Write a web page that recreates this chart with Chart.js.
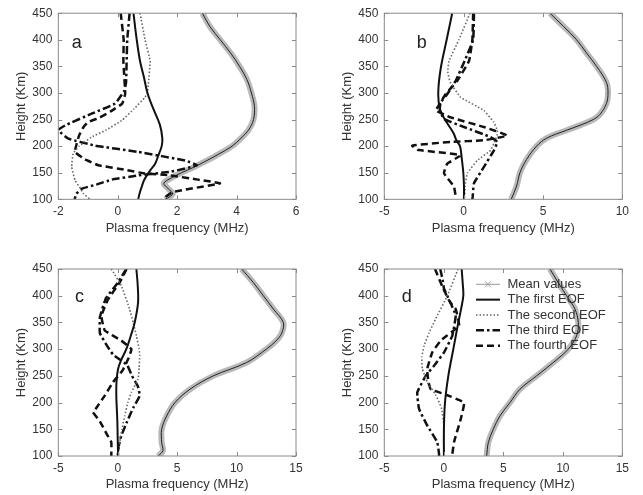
<!DOCTYPE html>
<html lang="en">
<head>
<meta charset="UTF-8">
<title>Plasma frequency EOF profiles</title>
<script src="https://cdn.jsdelivr.net/npm/chart.js"></script>
<style>
  body { margin: 0; background: #fff; }
  #wrap { position: relative; width: 643px; height: 495px; }
  #wrap canvas { position: absolute; left: 0; top: 0; }
</style>
</head>
<body>
<div id="wrap">
  <canvas id="chartA" width="643" height="495"></canvas>
  <canvas id="chartB" width="643" height="495"></canvas>
  <canvas id="chartC" width="643" height="495"></canvas>
  <canvas id="chartD" width="643" height="495"></canvas>
</div>
<script>
// each curve: [height (km), plasma frequency (MHz)]
const SERIES_NAMES = ['Mean values', 'The first EOF', 'The second EOF', 'The third EOF', 'The fourth EOF'];
const HEIGHT_TICKS = [100, 150, 200, 250, 300, 350, 400, 450];

// panel a
const A_TICKS = [-2, 0, 2, 4, 6];
const aMean = [[450,2.85],[425,3.1],[400,3.45],[375,3.8],[350,4.1],[325,4.35],[300,4.5],[275,4.6],[250,4.57],[230,4.4],[215,4.15],[200,3.85],[185,3.4],[170,2.9],[160,2.55],[150,2.15],[140,1.8],[130,1.55],[120,1.7],[110,1.85],[100,1.6]];
const aFirst = [[450,0.53],[400,0.64],[360,0.75],[330,0.88],[300,1.0],[270,1.2],[240,1.42],[215,1.5],[200,1.48],[180,1.35],[167,1.26],[155,1.1],[145,0.98],[135,0.88],[124,0.81],[112,0.74],[100,0.69]];
const aSecond = [[450,0.75],[400,0.92],[360,1.09],[317,1.03],[300,1.0],[292,0.92],[270,0.55],[248,0.13],[230,-0.4],[217,-0.88],[200,-1.3],[186,-1.5],[161,-1.55],[136,-1.44],[120,-1.25],[111,-1.16],[100,-0.93]];
const aThird = [[450,0.4],[400,0.32],[360,0.3],[320,0.28],[304,0.22],[280,-0.09],[261,-0.88],[239,-1.77],[230,-2.0],[214,-1.66],[201,-0.76],[189,0.69],[173,2.27],[164,2.66],[152,1.8],[145,0.7],[137,-0.2],[128,-0.7],[120,-1.2],[110,-1.4],[100,-1.45]];
const aFourth = [[450,0.1],[400,0.2],[360,0.19],[298,0.25],[280,0.15],[265,-0.25],[254,-0.6],[245,-1.0],[236,-1.15],[220,-1.3],[205,-1.38],[189,-1.44],[175,-1.1],[164,-0.65],[155,0.3],[149,0.86],[145,1.76],[137,2.7],[130,3.44],[114,1.87],[102,1.54],[100,1.5]];

// panel b
const B_TICKS = [-5, 0, 5, 10];
const bMean = [[450,5.44],[425,6.3],[400,7.12],[375,7.75],[350,8.38],[320,9.0],[300,9.1],[280,9.0],[260,8.6],[250,8.17],[240,7.4],[230,6.5],[215,5.23],[200,4.6],[175,3.97],[150,3.55],[125,3.34],[100,3.0]];
const bFirst = [[450,-0.72],[400,-1.07],[345,-1.45],[300,-1.6],[270,-1.5],[250,-1.18],[225,-0.65],[210,-0.44],[200,-0.23],[180,-0.13],[150,-0.02],[125,0.02],[100,0.02]];
const bSecond = [[450,0.4],[400,-0.3],[360,-0.92],[340,-1.0],[320,-0.85],[292,-0.19],[267,1.28],[245,1.9],[230,2.12],[220,2.1],[205,1.9],[192,1.7],[173,0.86],[149,0.23],[125,0.1],[100,0.05]];
const bThird = [[450,0.65],[400,0.6],[360,0.06],[323,-0.5],[298,-1.03],[282,-1.45],[268,-1.5],[251,-1.24],[236,0.02],[217,1.7],[208,2.12],[192,1.91],[161,1.28],[130,0.65],[105,0.57],[100,0.55]];
const bFourth = [[450,0.6],[400,0.55],[360,0.34],[323,-0.4],[298,-1.13],[275,-1.6],[267,-1.76],[254,-0.82],[236,1.28],[220,2.75],[211,1.28],[208,-0.82],[201,-3.24],[193,-2.9],[183,-0.19],[167,-1.03],[149,-1.24],[124,-0.61],[105,-0.5],[100,-0.5]];

// panel c
const C_TICKS = [-5, 0, 5, 10, 15];
const cMean = [[450,10.43],[425,11.4],[400,12.25],[375,13.1],[350,13.93],[330,13.8],[315,13.3],[300,12.5],[275,10.85],[250,8.04],[225,6.08],[200,4.82],[175,4.12],[150,3.7],[125,3.7],[110,3.8],[100,3.4]];
const cFirst = [[450,1.57],[420,1.68],[387,1.71],[350,1.43],[325,1.1],[300,0.72],[280,0.3],[263,0.03],[240,-0.1],[213,-0.12],[190,-0.08],[163,-0.03],[130,0.0],[100,0.03]];
const cSecond = [[450,-0.54],[419,0.3],[375,1.0],[350,1.3],[325,1.57],[300,1.8],[288,1.85],[265,1.8],[244,1.71],[219,1.15],[200,0.85],[175,0.59],[150,0.35],[126,0.17],[100,0.03]];
const cThird = [[450,0.72],[425,0.03],[395,-1.0],[360,-1.5],[330,-1.5],[310,-1.0],[290,-0.4],[270,0.8],[250,1.2],[230,1.7],[213,1.85],[190,1.3],[165,0.8],[138,0.3],[120,0.1],[100,0.0]];
const cFourth = [[450,0.75],[425,0.17],[393,-0.82],[362,-1.38],[335,-1.09],[316,0.3],[300,1.15],[281,0.87],[260,0.4],[238,-0.4],[213,-1.09],[190,-1.8],[182,-2.08],[165,-1.5],[140,-0.9],[126,-0.54],[100,-0.54]];

// panel d
const D_TICKS = [-5, 0, 5, 10, 15];
const dMean = [[450,8.92],[425,9.6],[400,10.32],[375,11.02],[350,11.3],[325,11.16],[300,10.46],[275,9.2],[250,7.8],[225,6.4],[200,5.56],[175,4.72],[150,4.16],[125,3.74],[100,3.6]];
const dFirst = [[450,1.5],[420,1.6],[400,1.64],[375,1.45],[350,1.22],[300,0.8],[250,0.38],[200,0.1],[150,0.01],[100,0.01]];
const dSecond = [[450,1.2],[400,0.3],[356,-0.7],[330,-1.25],[306,-1.66],[285,-1.85],[263,-1.8],[238,-1.39],[215,-0.7],[190,-0.2],[160,0.0],[130,0.0],[100,0.0]];
const dThird = [[450,-0.3],[430,-0.1],[413,0.02],[390,0.5],[363,1.0],[325,0.71],[294,0.02],[269,-0.82],[250,-1.52],[219,-2.23],[188,-2.08],[157,-1.39],[126,-0.55],[104,-0.4],[100,-0.4]];
const dFourth = [[450,-0.74],[413,-0.04],[388,0.52],[375,1.0],[344,1.28],[316,-0.26],[294,-0.97],[263,-1.39],[240,-1.3],[225,-1.1],[216,0.02],[200,1.7],[169,1.42],[126,0.86],[104,0.72],[100,0.72]];

const FONT = '"Liberation Sans", Arial, sans-serif';
const TEXT = '#333';

// line look of the five series (mean gets an extra thin core line)
const STYLES = [
  { color: '#b9b9b9', width: 6, dash: [] },
  { color: '#111', width: 2, dash: [] },
  { color: '#666', width: 1.6, dash: [1.5, 2] },
  { color: '#111', width: 2.5, dash: [8, 3, 2.5, 3] },
  { color: '#111', width: 2.5, dash: [7, 4] }
];

const panels = [
  { canvas: 'chartA', letter: 'a', ticks: A_TICKS, series: [aMean, aFirst, aSecond, aThird, aFourth],
    area: { left: 58.3, top: 12, right: 296, bottom: 199.3 }, lx: 13.4, ly: 34.7 },
  { canvas: 'chartB', letter: 'b', ticks: B_TICKS, series: [bMean, bFirst, bSecond, bThird, bFourth],
    area: { left: 384.3, top: 12, right: 622.3, bottom: 199.3 }, lx: 32.4, ly: 34.7 },
  { canvas: 'chartC', letter: 'c', ticks: C_TICKS, series: [cMean, cFirst, cSecond, cThird, cFourth],
    area: { left: 58.3, top: 269, right: 296, bottom: 456 }, lx: 16.7, ly: 33.3 },
  { canvas: 'chartD', letter: 'd', ticks: D_TICKS, series: [dMean, dFirst, dSecond, dThird, dFourth],
    area: { left: 384.3, top: 269, right: 622.3, bottom: 456 }, lx: 17.4, ly: 33.3, legend: true }
];

const Y_AXIS_W = 45, X_AXIS_H = 40;

function toPoints(arr) {
  return arr.map(p => ({ x: p[1], y: p[0] }));
}

// box, inward ticks on all four sides, panel letter
const framePlugin = {
  id: 'frame',
  afterDraw(chart, args, opts) {
    const { ctx, chartArea: a, scales: { x, y } } = chart;
    ctx.save();
    ctx.strokeStyle = '#8a8a8a';
    ctx.lineWidth = 1;
    ctx.setLineDash([]);
    ctx.strokeRect(a.left, a.top, a.right - a.left, a.bottom - a.top);
    ctx.beginPath();
    x.ticks.forEach(t => {
      const px = Math.round(x.getPixelForValue(t.value)) + 0.5;
      ctx.moveTo(px, a.bottom); ctx.lineTo(px, a.bottom - 4);
      ctx.moveTo(px, a.top); ctx.lineTo(px, a.top + 4);
    });
    y.ticks.forEach(t => {
      const py = Math.round(y.getPixelForValue(t.value)) + 0.5;
      ctx.moveTo(a.left, py); ctx.lineTo(a.left + 4, py);
      ctx.moveTo(a.right, py); ctx.lineTo(a.right - 4, py);
    });
    ctx.stroke();
    ctx.fillStyle = '#222';
    ctx.font = '18px ' + FONT;
    ctx.textBaseline = 'alphabetic';
    ctx.fillText(opts.letter, a.left + opts.lx, a.top + opts.ly);
    ctx.restore();
  }
};

// legend inside panel d
const legendPlugin = {
  id: 'eofLegend',
  afterDraw(chart, args, opts) {
    if (!opts.show) return;
    const { ctx } = chart;
    const x0 = 476, x1 = 500, tx = 507.5, y0 = 284.3, dy = 15.35;
    ctx.save();
    ctx.font = '13px ' + FONT;
    ctx.textBaseline = 'middle';
    SERIES_NAMES.forEach((name, i) => {
      const yy = y0 + i * dy;
      const s = STYLES[i];
      ctx.beginPath();
      if (i === 0) {
        ctx.strokeStyle = '#999';
        ctx.lineWidth = 1;
        ctx.setLineDash([]);
        ctx.moveTo(x0, yy); ctx.lineTo(x1, yy);
        const cx = (x0 + x1) / 2;
        ctx.moveTo(cx - 3, yy - 3); ctx.lineTo(cx + 3, yy + 3);
        ctx.moveTo(cx - 3, yy + 3); ctx.lineTo(cx + 3, yy - 3);
      } else {
        ctx.strokeStyle = s.color;
        ctx.lineWidth = s.width;
        ctx.setLineDash(s.dash);
        ctx.moveTo(x0, yy); ctx.lineTo(x1, yy);
      }
      ctx.stroke();
      ctx.fillStyle = TEXT;
      ctx.fillText(name, tx, yy);
    });
    ctx.restore();
  }
};

panels.forEach(p => {
  const datasets = [];
  p.series.forEach((arr, i) => {
    const s = STYLES[i];
    datasets.push({
      label: SERIES_NAMES[i],
      data: toPoints(arr),
      showLine: true,
      borderColor: s.color,
      borderWidth: s.width,
      borderDash: s.dash,
      pointRadius: 0,
      tension: i <= 1 ? 0.35 : 0.1,
      order: i === 0 ? 5 : 1
    });
    if (i === 0) {
      datasets.push({
        label: SERIES_NAMES[0] + ' core',
        data: toPoints(arr),
        showLine: true,
        borderColor: '#222',
        borderWidth: 1,
        pointRadius: 0,
        tension: 0.35,
        order: 4
      });
    }
  });

  new Chart(document.getElementById(p.canvas), {
    type: 'scatter',
    data: { datasets },
    options: {
      responsive: false,
      animation: false,
      events: [],
      layout: {
        padding: {
          left: p.area.left - Y_AXIS_W,
          top: p.area.top,
          right: 643 - p.area.right,
          bottom: 495 - p.area.bottom - X_AXIS_H
        }
      },
      scales: {
        x: {
          type: 'linear',
          min: p.ticks[0],
          max: p.ticks[p.ticks.length - 1],
          afterFit: sc => { sc.height = X_AXIS_H; },
          grid: { display: false, drawTicks: false },
          border: { display: false },
          ticks: { stepSize: p.ticks[1] - p.ticks[0], color: TEXT, padding: 5, font: { family: FONT, size: 12 } },
          title: { display: true, text: 'Plasma frequency (MHz)', color: TEXT, padding: { top: 0, bottom: 3.5 }, font: { family: FONT, size: 13 } }
        },
        y: {
          type: 'linear',
          min: HEIGHT_TICKS[0],
          max: HEIGHT_TICKS[HEIGHT_TICKS.length - 1],
          afterFit: sc => { sc.width = Y_AXIS_W; },
          grid: { display: false, drawTicks: false },
          border: { display: false },
          ticks: { stepSize: HEIGHT_TICKS[1] - HEIGHT_TICKS[0], color: TEXT, padding: 6, font: { family: FONT, size: 12 } },
          title: { display: true, text: 'Height (Km)', color: TEXT, padding: { top: 0, bottom: 0 }, font: { family: FONT, size: 13 } }
        }
      },
      plugins: {
        legend: { display: false },
        tooltip: { enabled: false },
        frame: { letter: p.letter, lx: p.lx, ly: p.ly },
        eofLegend: { show: !!p.legend }
      }
    },
    plugins: [framePlugin, legendPlugin]
  });
});
</script>
</body>
</html>
